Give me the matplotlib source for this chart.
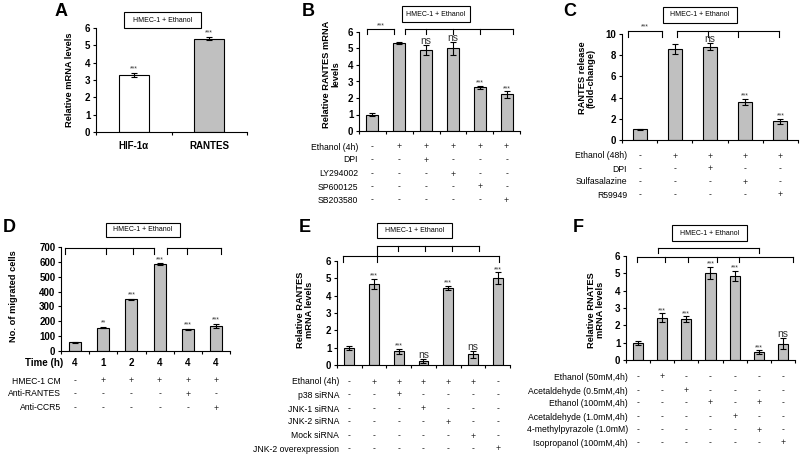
import numpy as np
import matplotlib.pyplot as plt
from matplotlib.transforms import blended_transform_factory
from matplotlib.patches import Rectangle

plt.rcParams['font.family'] = ['Liberation Sans', 'DejaVu Sans']

W, H = 800, 459
BAR = '#c0c0c0'
FS = 6.2

# ---- data ----
a_labels = ['HIF-1α', 'RANTES']
a_vals = [3.3, 5.38]
a_err = [0.1, 0.08]
a_sig = ['***', '***']

b_vals = [1.0, 5.35, 4.9, 5.0, 2.65, 2.22]
b_err = [0.08, 0.05, 0.3, 0.4, 0.1, 0.2]
b_sig = ['', '', 'ns', 'ns', '***', '***']
b_rows = ['Ethanol (4h)', 'DPI', 'LY294002', 'SP600125', 'SB203580']
b_signs = ['-+++++', '--+---', '---+--', '----+-', '-----+']

c_vals = [1.0, 8.6, 8.8, 3.6, 1.75]
c_err = [0.08, 0.5, 0.35, 0.3, 0.25]
c_sig = ['', '', 'ns', '***', '***']
c_rows = ['Ethanol (48h)', 'DPI', 'Sulfasalazine', 'R59949']
c_signs = ['-++++', '--+--', '---+-', '----+']

d_vals = [60, 158, 347, 585, 145, 170]
d_err = [3, 4, 5, 5, 5, 15]
d_sig = ['', '**', '***', '***', '***', '***']
d_time = ['4', '1', '2', '4', '4', '4']
d_rows = ['HMEC-1 CM', 'Anti-RANTES', 'Anti-CCR5']
d_signs = ['-+++++', '----+-', '-----+']

e_vals = [1.0, 4.68, 0.8, 0.22, 4.46, 0.61, 5.0]
e_err = [0.12, 0.3, 0.15, 0.12, 0.12, 0.2, 0.35]
e_sig = ['', '***', '***', 'ns', '***', 'ns', '***']
e_rows = ['Ethanol (4h)', 'p38 siRNA', 'JNK-1 siRNA', 'JNK-2 siRNA', 'Mock siRNA', 'JNK-2 overexpression']
e_signs = ['-+++++-', '--+----', '---+---', '----+--', '-----+-', '------+']

f_vals = [1.0, 2.44, 2.36, 5.04, 4.86, 0.45, 0.95]
f_err = [0.12, 0.25, 0.15, 0.35, 0.3, 0.1, 0.3]
f_sig = ['', '***', '***', '***', '***', '***', 'ns']
f_rows = ['Ethanol (50mM,4h)', 'Acetaldehyde (0.5mM,4h)', 'Ethanol (100mM,4h)',
          'Acetaldehyde (1.0mM,4h)', '4-methylpyrazole (1.0mM)', 'Isopropanol (100mM,4h)']
f_signs = ['-+-----', '--+----', '---+-+-', '----+--', '-----+-', '------+']

fig = plt.figure(figsize=(8, 4.59), dpi=100)


def fx(x):
    return x / W


def fy(y):
    return 1 - y / H


def px_axes(left, right, ytop, ybot):
    return fig.add_axes([fx(left), fy(ybot), (right - left) / W, (ybot - ytop) / H])


def bars(ax, vals, err, sig, width, ymax, step, colors=None, sig_off=0.0):
    n = len(vals)
    x = np.arange(n)
    if colors is None:
        colors = [BAR] * n
    ax.bar(x, vals, width, color=colors, edgecolor='black', linewidth=0.8, zorder=2)
    ax.errorbar(x, vals, yerr=err, fmt='none', ecolor='black', elinewidth=0.8,
                capsize=2.5, capthick=0.8, zorder=3)
    for i in range(n):
        if sig[i]:
            fs = 7.5 if sig[i] == 'ns' else 5
            ax.text(x[i], vals[i] + err[i] + sig_off, sig[i], ha='center', va='bottom',
                    fontsize=fs, color='#333333')
    ax.set_xlim(-0.5, n - 0.5)
    ax.set_ylim(0, ymax)
    ax.set_yticks(np.arange(0, ymax + step / 2, step))
    ax.set_xticks(np.arange(n + 1) - 0.5)
    ax.set_xticklabels([])
    ax.spines['top'].set_visible(False)
    ax.spines['right'].set_visible(False)
    ax.spines['left'].set_linewidth(0.8)
    ax.spines['bottom'].set_linewidth(0.8)
    ax.tick_params(axis='both', direction='out', length=2.5, width=0.8)
    ax.tick_params(axis='y', labelsize=7, pad=1.5)
    for t in ax.get_yticklabels():
        t.set_fontweight('bold')


def bracket(ax, x0, x1, y, drop, legs=(), label=None, left_drop=None):
    ax.plot([x0, x1], [y, y], color='black', lw=0.8, clip_on=False)
    ld = drop if left_drop is None else left_drop
    ax.plot([x0, x0], [y, y - ld], color='black', lw=0.8, clip_on=False)
    ax.plot([x1, x1], [y, y - drop], color='black', lw=0.8, clip_on=False)
    for lx in legs:
        ax.plot([lx, lx], [y, y - drop], color='black', lw=0.8, clip_on=False)
    if label:
        ax.text((x0 + x1) / 2, y, label, ha='center', va='bottom', fontsize=5,
                color='#333333', clip_on=False)


def title_box(x0, x1, y0, y1):
    fig.patches.append(Rectangle((fx(x0), fy(y1)), (x1 - x0) / W, (y1 - y0) / H,
                                 transform=fig.transFigure, fill=False,
                                 edgecolor='black', linewidth=0.8))
    fig.text(fx((x0 + x1) / 2), fy((y0 + y1) / 2), 'HMEC-1 + Ethanol',
             ha='center', va='center', fontsize=5)


def letter(x, y, s):
    fig.text(fx(x), fy(y), s, fontsize=13, fontweight='bold', ha='left', va='center')


def ylabel(x, y, s):
    fig.text(fx(x), fy(y), s, rotation=90, ha='center', va='center', fontsize=FS + 0.5,
             fontweight='bold', linespacing=1.0)


def table(ax, right, ys, rows, signs):
    tr = blended_transform_factory(ax.transData, fig.transFigure)
    for y, name, row in zip(ys, rows, signs):
        fig.text(fx(right), fy(y), name, ha='right', va='center', fontsize=FS)
        for i, s in enumerate(row):
            ax.text(i, fy(y), s, transform=tr, ha='center', va='center',
                    fontsize=FS, color='#222222')


# ---- A ----
axA = px_axes(96, 247, 28, 132)
bars(axA, a_vals, a_err, a_sig, 0.4, 6, 1, colors=['white', BAR], sig_off=0.05)
trA = blended_transform_factory(axA.transData, fig.transFigure)
for i, s in enumerate(a_labels):
    axA.text(i, fy(146), s, transform=trA, ha='center', va='center', fontsize=7,
             fontweight='bold')
ylabel(70, 80, 'Relative mRNA levels')
title_box(124, 201, 12, 28)
letter(55, 12, 'A')

# ---- B ----
axB = px_axes(359, 520, 32, 131)
bars(axB, b_vals, b_err, b_sig, 0.45, 6, 1, sig_off=-0.05)
bracket(axB, -0.2, 0.8, 6.18, 0.3, label='***')
bracket(axB, 1.2, 5.25, 6.18, 0.3, legs=(2, 3, 4))
ylabel(331, 74, 'Relative RANTES mRNA\nlevels')
table(axB, 358, [147, 160, 174, 187, 200], b_rows, b_signs)
title_box(402, 470, 6, 22)
letter(302, 12, 'B')

# ---- C ----
axC = px_axes(622, 798, 34, 140)
bars(axC, c_vals, c_err, c_sig, 0.4, 10, 2, sig_off=-0.1)
bracket(axC, -0.34, 0.63, 10.3, 0.6, label='***')
bracket(axC, 1.05, 3.95, 10.3, 0.6, legs=(1.95, 2.8))
ylabel(587, 78, 'RANTES release\n(fold-change)')
table(axC, 627, [156, 169, 182, 195], c_rows, c_signs)
title_box(663, 737, 7, 23)
letter(563, 11, 'C')

# ---- D ----
axD = px_axes(61, 230, 247, 351)
bars(axD, d_vals, d_err, d_sig, 0.43, 700, 100, sig_off=3)
bracket(axD, -0.35, 2.8, 693, 40, legs=(1.1, 2.06))
bracket(axD, 3.26, 5.18, 693, 40, legs=(3.97,))
ylabel(14, 296, 'No. of migrated cells')
trD = blended_transform_factory(axD.transData, fig.transFigure)
fig.text(fx(63), fy(363), 'Time (h)', ha='right', va='center', fontsize=7, fontweight='bold')
for i, s in enumerate(d_time):
    axD.text(i, fy(363), s, transform=trD, ha='center', va='center', fontsize=7,
             fontweight='bold')
table(axD, 61, [381, 394, 408], d_rows, d_signs)
title_box(106, 180, 223, 237)
letter(3, 227, 'D')

# ---- E ----
axE = px_axes(337, 510, 261, 365)
bars(axE, e_vals, e_err, e_sig, 0.4, 6, 1, sig_off=-0.05)
bracket(axE, -0.24, 6.07, 6.29, 0.34, legs=(1.13,))
bracket(axE, 1.13, 5.26, 6.87, 0.29, legs=(1.98, 3.08, 4.17), left_drop=0.58)
ylabel(305, 310, 'Relative RANTES\nmRNA levels')
table(axE, 339, [382, 395, 409, 422, 436, 449], e_rows, e_signs)
title_box(377, 452, 223, 238)
letter(299, 227, 'E')

# ---- F ----
axF = px_axes(626, 795, 256, 360)
bars(axF, f_vals, f_err, f_sig, 0.42, 6, 1, sig_off=-0.05)
bracket(axF, -0.04, 6.43, 5.94, 0.29, legs=(1.12, 2.07, 3.28, 4.19))
bracket(axF, 0.83, 5.02, 6.46, 0.29)
ylabel(596, 310, 'Relative RNATES\nmRNA levels')
table(axF, 628, [377, 391, 403, 417, 430, 443], f_rows, f_signs)
title_box(672, 747, 225, 241)
letter(573, 227, 'F')

fig.savefig('out.png', dpi=100)
